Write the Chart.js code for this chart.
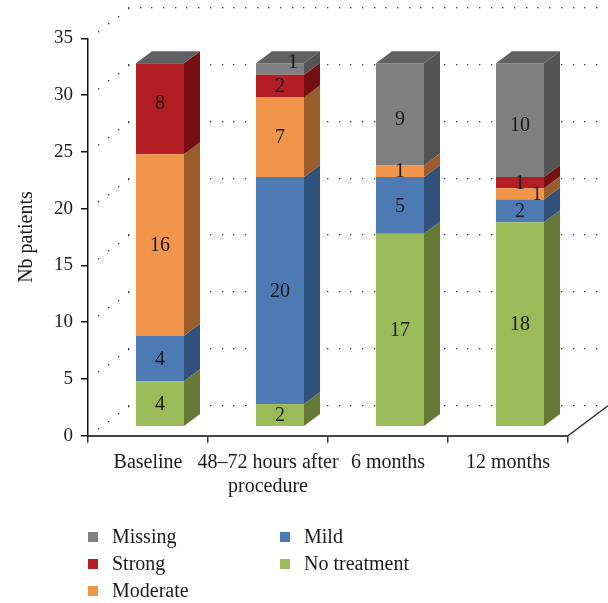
<!DOCTYPE html>
<html>
<head>
<meta charset="utf-8">
<script src="https://cdn.jsdelivr.net/npm/chart.js@4.4.1/dist/chart.umd.min.js"></script>
<style>
  html, body { margin: 0; padding: 0; background: #ffffff; }
  #wrap { width: 608px; height: 603px; position: relative; }
</style>
</head>
<body>
<div id="wrap"><canvas id="chart"></canvas></div>
<script>
// Patients by pain-treatment level at each time point
const categories = ['Baseline', ['48–72 hours after', 'procedure'], '6 months', '12 months'];
const noTreatment = [4, 2, 17, 18];
const mild        = [4, 20, 5, 2];
const moderate    = [16, 7, 1, 1];
const strong      = [8, 2, 0, 1];
const missing     = [0, 1, 9, 10];
const seriesNames = ['No treatment', 'Mild', 'Moderate', 'Strong', 'Missing'];
const yMax = 35;
const yStep = 5;

const SERIF = '"Liberation Serif", "DejaVu Serif", serif';
const INK = '#1c1a1a';

// front / side / top shades of each series
const shades = [
  { front: '#9bbb59', side: '#657a37', top: '#7d9a45' },
  { front: '#4e7ab4', side: '#30517a', top: '#3f6593' },
  { front: '#f0954a', side: '#9b5d2c', top: '#c2773b' },
  { front: '#b21e23', side: '#770f12', top: '#94171b' },
  { front: '#808080', side: '#535353', top: '#606060' }
];

const seriesValues = [noTreatment, mild, moderate, strong, missing];

// 3-D box geometry: floor depth, bar front position and bar depth
const depth = { dx: 40, dy: 30, barFront: 0.3, barDepth: 0.4 };

const box3d = {
  id: 'box3d',
  beforeDatasetsDraw(chart) {
    const { ctx, chartArea, scales } = chart;
    const { left, right, bottom } = chartArea;
    const y = scales.y;
    ctx.save();
    ctx.fillStyle = '#3a3a3a';
    // dotted wall grid: diagonal on the side wall, horizontal on the back wall
    y.ticks.forEach(t => {
      const yy = y.getPixelForValue(t.value);
      for (let k = 1; k <= 4; k++) {
        const px = left + k * depth.dx / 4 - 0.5;
        const py = yy - k * depth.dy / 4;
        ctx.fillRect(Math.round(px), Math.round(py), 1.3, 1.3);
      }
      const by = yy - depth.dy - 1;
      for (let px = left + depth.dx; px < chart.width; px += 11.7) {
        ctx.fillRect(Math.round(px), Math.round(by), 1.3, 1.3);
      }
    });
    // floor edge on the right
    ctx.strokeStyle = '#222';
    ctx.lineWidth = 1.4;
    ctx.beginPath();
    ctx.moveTo(right, bottom);
    ctx.lineTo(right + depth.dx, bottom - depth.dy);
    ctx.stroke();
    ctx.restore();

    // bars stand in the middle of the floor depth
    ctx.save();
    ctx.translate(depth.dx * depth.barFront, -depth.dy * depth.barFront);
  },
  afterDatasetsDraw(chart, args, opts) {
    const { ctx } = chart;
    const sx = depth.dx * depth.barDepth, sy = depth.dy * depth.barDepth;
    const n = chart.data.datasets.length;
    for (let d = 0; d < n; d++) {
      const meta = chart.getDatasetMeta(d);
      const sh = shades[d];
      meta.data.forEach(el => {
        const p = el.getProps(['x', 'y', 'base', 'width'], true);
        const x1 = p.x - p.width / 2, x2 = p.x + p.width / 2;
        if (p.base - p.y > 0.1) {
          ctx.fillStyle = sh.side;
          ctx.beginPath();
          ctx.moveTo(x2, p.y);
          ctx.lineTo(x2 + sx, p.y - sy);
          ctx.lineTo(x2 + sx, p.base - sy);
          ctx.lineTo(x2, p.base);
          ctx.closePath();
          ctx.fill();
        }
        if (d === n - 1) {
          ctx.fillStyle = sh.top;
          ctx.beginPath();
          ctx.moveTo(x1, p.y);
          ctx.lineTo(x2, p.y);
          ctx.lineTo(x2 + sx, p.y - sy);
          ctx.lineTo(x1 + sx, p.y - sy);
          ctx.closePath();
          ctx.fill();
        }
      });
    }
    // value labels
    ctx.fillStyle = INK;
    ctx.font = '20px ' + SERIF;
    ctx.textAlign = 'center';
    ctx.textBaseline = 'middle';
    for (let d = 0; d < n; d++) {
      const meta = chart.getDatasetMeta(d);
      meta.data.forEach((el, i) => {
        const v = chart.data.datasets[d].data[i];
        if (!v) return;
        const p = el.getProps(['x', 'y', 'base'], true);
        const nudge = (opts.nudges || []).find(q => q.d === d && q.i === i) || { dx: 0, dy: 0 };
        ctx.fillText(String(v), p.x + nudge.dx, (p.y + p.base) / 2 + 1 + nudge.dy);
      });
    }
    ctx.restore();
  },
  afterDraw(chart) {
    // legend in two columns, top series first
    const { ctx } = chart;
    const order = chart.data.datasets.map((ds, i) => i).reverse();
    ctx.save();
    ctx.font = '20px ' + SERIF;
    ctx.textAlign = 'left';
    ctx.textBaseline = 'middle';
    order.forEach((d, k) => {
      const col = Math.floor(k / 3), row = k % 3;
      const x = 88 + col * 192;
      const yc = 537 + row * 27;
      ctx.fillStyle = shades[d].front;
      ctx.fillRect(x, yc - 5, 10, 10);
      ctx.fillStyle = INK;
      ctx.fillText(chart.data.datasets[d].label, x + 24, yc + 1);
    });
    ctx.restore();
  }
};

new Chart(document.getElementById('chart'), {
  type: 'bar',
  data: {
    labels: categories,
    datasets: seriesValues.map((vals, i) => ({
      label: seriesNames[i],
      data: vals,
      backgroundColor: shades[i].front,
      borderWidth: 0,
      barPercentage: 0.4,
      categoryPercentage: 1.0
    }))
  },
  options: {
    responsive: true,
    maintainAspectRatio: false,
    animation: false,
    events: [],
    layout: { padding: { top: 38.3, right: 40, left: 0, bottom: 0 } },
    plugins: {
      legend: { display: false },
      tooltip: { enabled: false },
      box3d: {
        nudges: [
          { d: 3, i: 0, dx: 0, dy: -6 },
          { d: 4, i: 1, dx: 13, dy: -7 },
          { d: 4, i: 2, dx: 0, dy: 4 },
          { d: 4, i: 3, dx: 0, dy: 5 },
          { d: 2, i: 3, dx: 17, dy: 0 }
        ]
      }
    },
    scales: {
      x: {
        stacked: true,
        afterFit: s => { s.height = 603 - 435.7; },
        grid: {
          offset: true,
          drawOnChartArea: false,
          drawTicks: true,
          tickLength: 7,
          color: '#333',
          lineWidth: 1.5
        },
        border: { display: true, color: '#444', width: 2 },
        ticks: {
          color: INK,
          padding: 8,
          maxRotation: 0,
          autoSkip: false,
          font: { family: SERIF, size: 20, lineHeight: 1.2 }
        }
      },
      y: {
        stacked: true,
        min: 0,
        max: yMax,
        afterFit: s => { s.width = 88; },
        grid: {
          drawOnChartArea: false,
          drawTicks: true,
          tickLength: 7,
          color: '#111',
          lineWidth: 1.5
        },
        border: { display: true, color: '#111', width: 1.5 },
        ticks: {
          stepSize: yStep,
          color: INK,
          padding: 8,
          font: { family: SERIF, size: 19 }
        },
        title: {
          display: true,
          text: 'Nb patients',
          color: INK,
          padding: { top: 15, bottom: 0 },
          font: { family: SERIF, size: 20, lineHeight: 1.2 }
        }
      }
    }
  },
  plugins: [box3d]
});
</script>
</body>
</html>
